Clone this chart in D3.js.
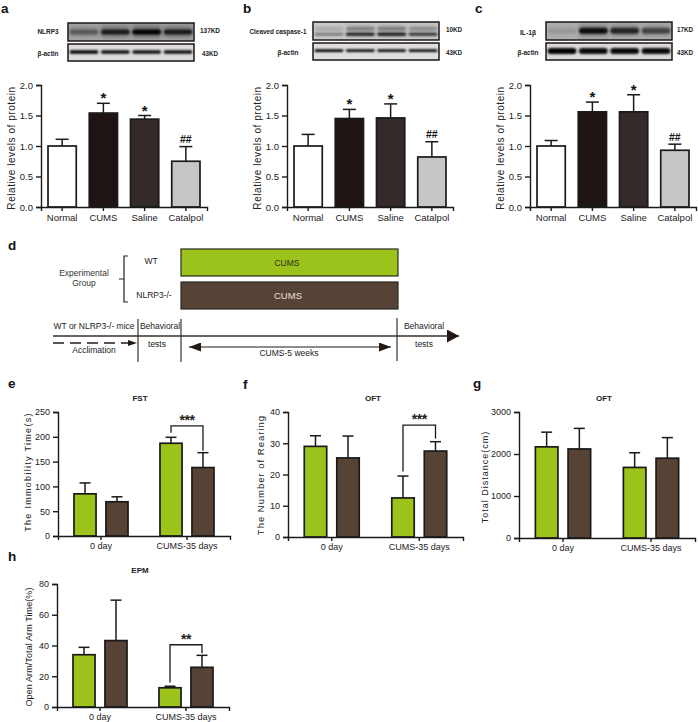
<!DOCTYPE html>
<html>
<head>
<meta charset="utf-8">
<script src="https://cdn.jsdelivr.net/npm/d3@7"></script>
<style>
  html, body { margin: 0; padding: 0; background: #fff; }
  svg { display: block; }
  text { font-family: "Liberation Sans", Arial, sans-serif; fill: #222; }
  .tick text { font-size: 9.5px; fill: #222; }
  .small-ticks .tick text { font-size: 9px; }
  .panel-letter { font-size: 13.5px; font-weight: bold; fill: #111; }
  .blot-label { font-size: 8px; font-weight: bold; }
</style>
</head>
<body>
<div id="chart"></div>
<script>
// protein panels (a, b, c)
const proteinGroups = ['Normal', 'CUMS', 'Saline', 'Catalpol'];
const proteinTicks = [0, 0.5, 1, 1.5, 2];
const nlrp3Values = [1.0, 1.54, 1.44, 0.75];
const nlrp3Errors = [1.11, 1.70, 1.50, 0.99];
const caspaseValues = [1.0, 1.45, 1.46, 0.82];
const caspaseErrors = [1.19, 1.60, 1.69, 1.07];
const il1bValues = [1.0, 1.56, 1.56, 0.93];
const il1bErrors = [1.09, 1.72, 1.84, 1.03];
const proteinMarks = ['', '*', '*', '##'];

// band darkness of each lane on the blots
const nlrp3Lanes = [0.4, 0.8, 1, 0.8];
const caspaseLanes = [0.35, 0.85, 0.9, 0.7];
const il1bLanes = [0.1, 0.9, 0.75, 0.55];
const actinLanes = [1, 0.95, 0.95, 0.95];

// behaviour panels (e, f, g, h)
const behaviourGroups = ['0 day', 'CUMS-35 days'];
const genotypes = ['WT', 'NLRP3-/-'];
const fstValues = [[85, 69], [187, 138]];
const fstErrors = [[107, 79], [199, 168]];
const rearingValues = [[29, 25.3], [12.5, 27.5]];
const rearingErrors = [[32.4, 32.3], [19.5, 30.5]];
const distanceValues = [[2170, 2120], [1680, 1900]];
const distanceErrors = [[2520, 2610], [2030, 2390]];
const epmValues = [[34, 43.2], [12.5, 25.8]];
const epmErrors = [[38.8, 69.5], [13.5, 33.6]];

const proteinColors = d3.scaleOrdinal(proteinGroups, ['#ffffff', '#1e1512', '#332a29', '#c6c6c6']);
const genotypeColors = d3.scaleOrdinal(genotypes, ['#9bc31b', '#574335']);
const ink = '#1a1a1a';

const svg = d3.select('#chart').append('svg')
    .attr('width', 698)
    .attr('height', 722);

const defs = svg.append('defs');
const blur = (id, amount) => defs.append('filter').attr('id', id)
    .attr('x', '-30%').attr('y', '-150%').attr('width', '160%').attr('height', '400%')
    .append('feGaussianBlur').attr('stdDeviation', amount);
blur('soft', 0.9);
blur('halo', 2.2);

// letters
[['a', 1, 12.5], ['b', 243, 13], ['c', 475, 13], ['d', 8, 250], ['e', 8, 388], ['f', 243, 389], ['g', 473, 388], ['h', 8, 561]]
    .forEach(d => svg.append('text').attr('class', 'panel-letter').attr('x', d[1]).attr('y', d[2]).text(d[0]));

function yAxis(g, y, ticks) {
    g.call(d3.axisLeft(y).tickValues(ticks).tickSizeOuter(0).tickSize(5)
        .tickFormat(d => ticks[ticks.length - 1] <= 2 ? d3.format('.1f')(d) : d));
    g.selectAll('path, line').attr('stroke', ink).attr('stroke-width', 1.4);
}

function xAxis(g, x, h) {
    g.attr('transform', `translate(0,${h})`)
        .call(d3.axisBottom(x).tickSizeOuter(0).tickSize(4).tickPadding(3));
    g.selectAll('path, line').attr('stroke', ink).attr('stroke-width', 1.4);
}

function errorBar(g, cx, y, value, error, cap) {
    g.append('line').attr('x1', cx).attr('x2', cx).attr('y1', y(value)).attr('y2', y(error))
        .attr('stroke', ink).attr('stroke-width', 1.5);
    g.append('line').attr('x1', cx - cap / 2).attr('x2', cx + cap / 2).attr('y1', y(error)).attr('y2', y(error))
        .attr('stroke', ink).attr('stroke-width', 1.5);
}

function yLabel(g, text, x, cy, size, spacing) {
    g.append('text')
        .attr('transform', `translate(${x},${cy}) rotate(-90)`)
        .attr('text-anchor', 'middle')
        .style('font-size', size + 'px')
        .style('letter-spacing', spacing + 'px')
        .text(text);
}

// the blot labels are a condensed face in the original, so fit them to width
function blotLabel(g, text, cx, y, width) {
    g.append('text').attr('class', 'blot-label')
        .attr('x', cx - width / 2).attr('y', y)
        .attr('textLength', width).attr('lengthAdjust', 'spacingAndGlyphs')
        .text(text);
}

function blot(g, box, lanes, opts) {
    g.append('rect').attr('x', box.x).attr('y', box.y).attr('width', box.w).attr('height', box.h)
        .attr('fill', opts.shade);
    const lane = d3.scaleBand(d3.range(lanes.length), [box.x, box.x + box.w]).paddingInner(0.08).paddingOuter(0.05);
    const clipId = 'clip' + box.x + '-' + box.y;
    defs.append('clipPath').attr('id', clipId).append('rect')
        .attr('x', box.x).attr('y', box.y).attr('width', box.w).attr('height', box.h);
    const bands = g.append('g').attr('clip-path', `url(#${clipId})`);

    // dark smear behind the band, only on the target blots
    if (opts.halo) {
        bands.selectAll(null).data(lanes).enter().append('rect')
            .attr('x', (d, i) => lane(i))
            .attr('y', box.y + 2)
            .attr('width', lane.bandwidth())
            .attr('height', box.h - 5)
            .attr('fill', '#333')
            .attr('opacity', d => d * opts.halo)
            .attr('filter', 'url(#halo)');
    }
    opts.rows.forEach((row, r) => {
        bands.selectAll(null).data(lanes).enter().append('rect')
            .attr('x', (d, i) => lane(i))
            .attr('y', box.y + box.h * row - opts.thick / 2)
            .attr('width', lane.bandwidth())
            .attr('height', opts.thick)
            .attr('rx', opts.thick / 2)
            .attr('fill', '#060606')
            .attr('opacity', d => opts.rows.length > 1 && r === 0 ? d * 0.35 : d)
            .attr('filter', 'url(#soft)');
    });
    g.append('rect').attr('x', box.x).attr('y', box.y).attr('width', box.w).attr('height', box.h)
        .attr('fill', 'none').attr('stroke', '#1c1612').attr('stroke-width', 1.5);
}

function proteinPanel(p) {
    const g = svg.append('g');
    const h = 207;
    const y = d3.scaleLinear([0, 2], [h, 85]);
    const x = d3.scaleBand(proteinGroups, [p.x0, p.x1]).paddingInner(0.315).paddingOuter(0.17);

    blot(g, { x: p.bx, y: p.by, w: 126, h: 18 }, p.lanes, p.main);
    blot(g, { x: p.bx, y: p.by + 21, w: 126, h: 17 }, actinLanes, p.actin);

    blotLabel(g, p.name, p.lx, p.ly, p.lw);
    blotLabel(g, 'β-actin', p.ax, p.by + 32.5, 21);
    blotLabel(g, p.kd, p.kx, p.by + 9.5, p.kw);
    blotLabel(g, '43KD', p.kx, p.by + 32.5, 16);

    proteinGroups.forEach((name, i) => {
        const cx = x(name) + x.bandwidth() / 2;
        errorBar(g, cx, y, p.values[i], p.errors[i], 13);
        g.append('rect').attr('x', x(name)).attr('y', y(p.values[i]))
            .attr('width', x.bandwidth()).attr('height', h - y(p.values[i]))
            .attr('fill', proteinColors(name)).attr('stroke', ink).attr('stroke-width', 1.7);
        if (proteinMarks[i]) {
            const star = proteinMarks[i] === '*';
            g.append('text').attr('x', cx).attr('y', y(p.errors[i]) + (star ? 0 : -3.5))
                .attr('text-anchor', 'middle')
                .style('font-size', star ? '15px' : '10.5px')
                .style('font-weight', 'bold')
                .style('fill', '#111')
                .text(proteinMarks[i]);
        }
    });

    g.append('g').attr('transform', `translate(${p.x0},0)`).call(yAxis, y, proteinTicks);
    g.append('g').call(xAxis, x, h);
    yLabel(g, 'Relative levels of protein', p.x0 - 26, 148, 10, 0.55);
}

proteinPanel({ name: 'NLRP3', kd: '137KD', values: nlrp3Values, errors: nlrp3Errors, lanes: nlrp3Lanes,
    main: { shade: '#a8a8a8', rows: [0.5], thick: 5, halo: 0.45 },
    actin: { shade: '#dcdcdc', rows: [0.47], thick: 3.5 },
    x0: 41, x1: 207, bx: 68, by: 23, lx: 48, ly: 34, lw: 21, ax: 48, kx: 210, kw: 20 });
proteinPanel({ name: 'Cleaved caspase-1', kd: '10KD', values: caspaseValues, errors: caspaseErrors, lanes: caspaseLanes,
    main: { shade: '#cfcfcf', rows: [0.38, 0.68], thick: 3, halo: 0.25 },
    actin: { shade: '#dedede', rows: [0.45], thick: 2.8 },
    x0: 287, x1: 453, bx: 313, by: 22, lx: 278, ly: 33.5, lw: 57, ax: 288, kx: 454, kw: 16 });
proteinPanel({ name: 'IL-1β', kd: '17KD', values: il1bValues, errors: il1bErrors, lanes: il1bLanes,
    main: { shade: '#b0b0b0', rows: [0.48], thick: 6, halo: 0.35 },
    actin: { shade: '#dadada', rows: [0.47], thick: 6 },
    x0: 530, x1: 696, bx: 546, by: 22, lx: 528, ly: 35, lw: 16, ax: 528, kx: 685, kw: 16 });

function behaviourPanel(p) {
    const g = svg.append('g').attr('class', 'small-ticks');
    const y = d3.scaleLinear([0, p.ticks[p.ticks.length - 1]], [p.y0, p.y1]);
    const x = d3.scaleBand(behaviourGroups, [p.x0, p.x1]).paddingInner(0.372).paddingOuter(0.186);
    const inner = d3.scaleBand(genotypes, [0, x.bandwidth()]).paddingInner(0.31);

    behaviourGroups.forEach((group, i) => {
        genotypes.forEach((type, j) => {
            const left = x(group) + inner(type);
            errorBar(g, left + inner.bandwidth() / 2, y, p.values[i][j], p.errors[i][j], 11);
            g.append('rect').attr('x', left).attr('y', y(p.values[i][j]))
                .attr('width', inner.bandwidth()).attr('height', p.y0 - y(p.values[i][j]))
                .attr('fill', genotypeColors(type)).attr('stroke', ink).attr('stroke-width', 1.7);
        });
    });

    g.append('g').attr('transform', `translate(${p.x0},0)`).call(yAxis, y, p.ticks);
    g.append('g').call(xAxis, x, p.y0);
    g.append('text').attr('x', p.tx).attr('y', p.y1 - 11).attr('text-anchor', 'middle')
        .style('font-size', '8px').style('font-weight', 'bold').text(p.title);
    yLabel(g, p.label, p.lx, p.ly, p.size, p.spacing);

    if (p.sig) {
        const x1 = x(behaviourGroups[1]) + inner(genotypes[0]) + inner.bandwidth() / 2;
        const x2 = x(behaviourGroups[1]) + inner(genotypes[1]) + inner.bandwidth() / 2;
        const top = y(p.sig.top);
        g.append('path')
            .attr('d', d3.line()([[x1, y(p.sig.left)], [x1, top], [x2, top], [x2, y(p.sig.right)]]))
            .attr('fill', 'none').attr('stroke', ink).attr('stroke-width', 1.3);
        g.append('text').attr('x', (x1 + x2) / 2).attr('y', top - 1).attr('text-anchor', 'middle')
            .style('font-size', '14px').style('font-weight', 'bold').style('letter-spacing', '-0.5px').text(p.sig.text);
    }
}

behaviourPanel({ title: 'FST', label: 'The Immobility Time(s)', values: fstValues, errors: fstErrors, ticks: [0, 50, 100, 150, 200, 250],
    x0: 58, x1: 230, y0: 536, y1: 412, tx: 140, lx: 31, ly: 472, size: 9, spacing: 1.3,
    sig: { top: 222, left: 208, right: 172, text: '***' } });
behaviourPanel({ title: 'OFT', label: 'The Number of Rearing', values: rearingValues, errors: rearingErrors, ticks: [0, 10, 20, 30, 40],
    x0: 288, x1: 463, y0: 537, y1: 412, tx: 373, lx: 264, ly: 475, size: 9.5, spacing: 1,
    sig: { top: 35.8, left: 21, right: 31.5, text: '***' } });
behaviourPanel({ title: 'OFT', label: 'Total Distance(cm)', values: distanceValues, errors: distanceErrors, ticks: [0, 1000, 2000, 3000],
    x0: 519, x1: 695, y0: 538, y1: 412, tx: 604, lx: 488, ly: 477, size: 9, spacing: 1 });
behaviourPanel({ title: 'EPM', label: 'Open Arm/Total Arm Time(%)', values: epmValues, errors: epmErrors, ticks: [0, 20, 40, 60, 80],
    x0: 57, x1: 229, y0: 707, y1: 584, tx: 140, lx: 32, ly: 647, size: 9, spacing: 0.1,
    sig: { top: 40.5, left: 16, right: 35, text: '**' } });

// panel d, the timeline
const timeline = svg.append('g');
const arrow = (id, w, h) => defs.append('marker').attr('id', id)
    .attr('viewBox', `0 0 ${w} ${h}`).attr('refX', w).attr('refY', h / 2)
    .attr('markerWidth', w).attr('markerHeight', h).attr('markerUnits', 'userSpaceOnUse')
    .attr('orient', 'auto-start-reverse')
    .append('path').attr('d', `M0,0L${w},${h / 2}L0,${h}Z`).attr('fill', '#231a14');
arrow('big', 12, 13);
arrow('mid', 12, 9);
arrow('small', 9, 6);

[[249, genotypes[0]], [282, genotypes[1]]].forEach(d => {
    timeline.append('rect').attr('x', 181).attr('y', d[0]).attr('width', 217).attr('height', 27)
        .attr('fill', genotypeColors(d[1])).attr('stroke', '#2a2a20').attr('stroke-width', 1.2);
});

const dText = [
    ['CUMS', 287, 266, '#2b2b15', 8.5], ['CUMS', 288, 299, '#e6e0da', 9.5],
    ['WT', 151, 264, '#222', 8.5], ['NLRP3-/-', 154, 298, '#222', 8.5],
    ['Experimental', 84, 276, '#333', 8.5], ['Group', 84, 286, '#333', 8.5],
    ['WT or NLRP3-/- mice', 94, 329, '#222', 8.5], ['Behavioral', 160, 329, '#222', 8.5],
    ['tests', 157, 347, '#222', 8.5], ['Acclimation', 94, 353, '#222', 8.5],
    ['Behavioral', 424, 329, '#222', 8.5], ['tests', 424, 347, '#222', 8.5],
    ['CUMS-5 weeks', 289, 356, '#222', 8.5]
];
dText.forEach(d => timeline.append('text').attr('x', d[1]).attr('y', d[2])
    .attr('text-anchor', 'middle').style('fill', d[3]).style('font-size', d[4] + 'px').text(d[0]));

timeline.append('path').attr('d', 'M128,256H124V302H128M124,279H119')
    .attr('fill', 'none').attr('stroke', '#222').attr('stroke-width', 1.2);
timeline.append('line').attr('x1', 53).attr('x2', 459).attr('y1', 336).attr('y2', 336)
    .attr('stroke', '#3a3028').attr('stroke-width', 1.5).attr('marker-end', 'url(#big)');
[[138, 319, 362], [181, 319, 362], [397, 318, 361]].forEach(d => {
    timeline.append('line').attr('x1', d[0]).attr('x2', d[0]).attr('y1', d[1]).attr('y2', d[2])
        .attr('stroke', '#222').attr('stroke-width', 1.1);
});
timeline.append('line').attr('x1', 53).attr('x2', 137).attr('y1', 343).attr('y2', 343)
    .attr('stroke', '#231a14').attr('stroke-width', 1.6).attr('stroke-dasharray', '11 6')
    .attr('marker-end', 'url(#small)');
timeline.append('line').attr('x1', 189).attr('x2', 391).attr('y1', 347).attr('y2', 347)
    .attr('stroke', '#231a14').attr('stroke-width', 1.2)
    .attr('marker-start', 'url(#mid)').attr('marker-end', 'url(#mid)');
</script>
</body>
</html>
